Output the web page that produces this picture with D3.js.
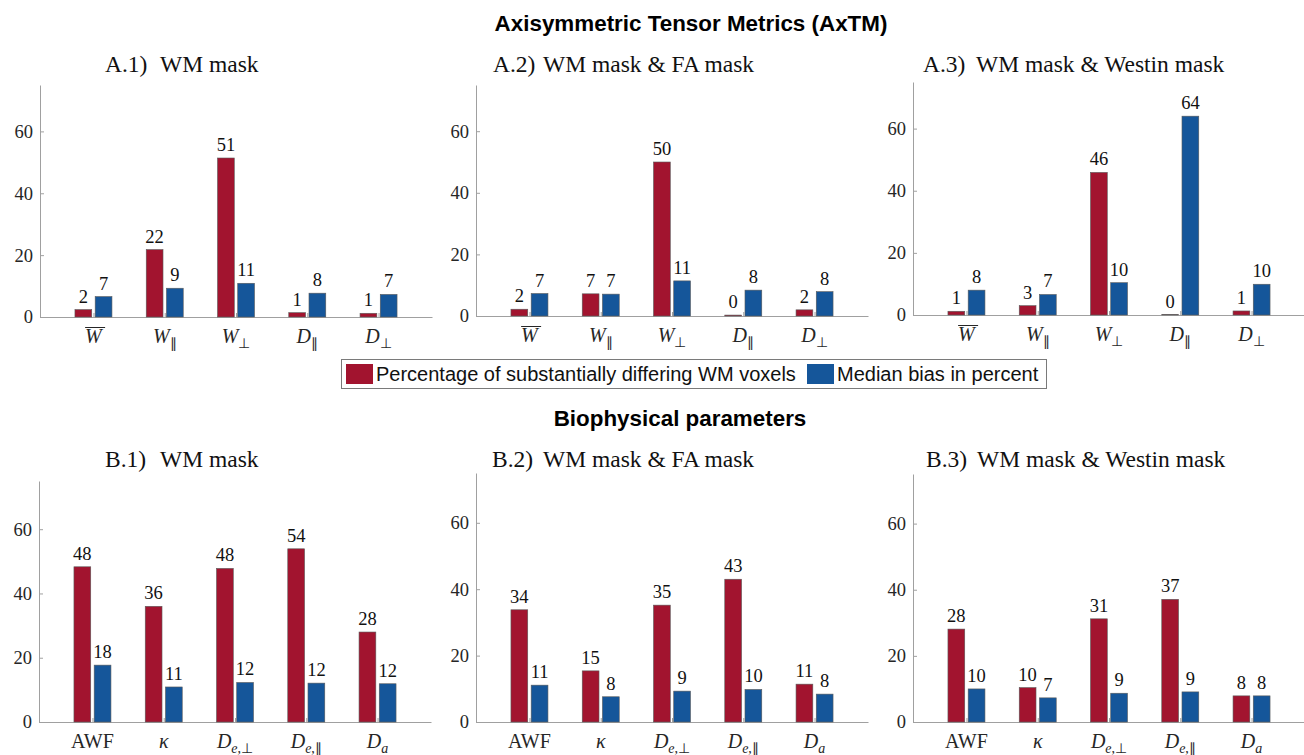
<!DOCTYPE html>
<html>
<head>
<meta charset="utf-8">
<script src="https://cdn.jsdelivr.net/npm/d3@7"></script>
<style>
  body { margin: 0; background: #fff; }
  svg { display: block; }
</style>
</head>
<body>
<svg id="chart" width="1304" height="755"></svg>
<script>
// Data
const catsA = ["~W", "W_∥", "W_⊥", "D_∥", "D_⊥"];
const catsB = ["AWF", "κ", "D_e,⊥", "D_e,∥", "D_a"];
const romanLabels = ["AWF"];

const seriesNames = ["Percentage of substantially differing WM voxels", "Median bias in percent"];
const seriesColors = ["#A2142F", "#15569A"];

const pctA1 = [2.4, 21.8, 51.4, 1.4, 1.2];
const biasA1 = [6.6, 9.3, 10.9, 7.7, 7.3];
const pctA2 = [2.2, 7.2, 50.0, 0.3, 2.0];
const biasA2 = [7.3, 7.1, 11.4, 8.4, 7.9];
const pctA3 = [1.2, 3.0, 45.9, 0.1, 1.3];
const biasA3 = [8.0, 6.6, 10.4, 64.0, 9.9];
const pctB1 = [48.3, 36.0, 47.8, 53.9, 28.0];
const biasB1 = [17.7, 10.9, 12.3, 12.1, 11.9];
const pctB2 = [33.8, 15.4, 35.2, 43.0, 11.4];
const biasB2 = [11.1, 7.6, 9.3, 9.8, 8.4];
const pctB3 = [28.1, 10.4, 31.2, 37.1, 7.9];
const biasB3 = [10.0, 7.3, 8.7, 9.1, 7.9];

const yTicks = [0, 20, 40, 60];
const yMax = 75;

const titleA = "Axisymmetric Tensor Metrics (AxTM)";
const titleB = "Biophysical parameters";

// Layout for each subplot
const panels = [
  {id: "A.1)", name: "WM mask", cats: catsA, vals: [pctA1, biasA1], x0: 40, x1: 432, top: 85, base: 317, tx: 105, bx: 160, ty: 72},
  {id: "A.2)", name: "WM mask & FA mask", cats: catsA, vals: [pctA2, biasA2], x0: 476, x1: 868, top: 85, base: 316, tx: 493, bx: 543, ty: 72},
  {id: "A.3)", name: "WM mask & Westin mask", cats: catsA, vals: [pctA3, biasA3], x0: 913, x1: 1305, top: 82, base: 315, tx: 923, bx: 976, ty: 72},
  {id: "B.1)", name: "WM mask", cats: catsB, vals: [pctB1, biasB1], x0: 39, x1: 431, top: 481, base: 722, tx: 105, bx: 160, ty: 467},
  {id: "B.2)", name: "WM mask & FA mask", cats: catsB, vals: [pctB2, biasB2], x0: 476, x1: 868, top: 473, base: 722, tx: 492, bx: 543, ty: 467},
  {id: "B.3)", name: "WM mask & Westin mask", cats: catsB, vals: [pctB3, biasB3], x0: 913, x1: 1305, top: 474, base: 722, tx: 926, bx: 977, ty: 467}
];

const serif = "'Liberation Serif', 'Times New Roman', serif";
const sans = "'Liberation Sans', Arial, sans-serif";
const axisColor = "#a0a0a0";
const fmt = d3.format(".0f");

const svg = d3.select("#chart");

//Main titles
svg.append("text")
  .attr("x", 691).attr("y", 31)
  .attr("text-anchor", "middle")
  .style("font-family", sans).style("font-weight", "bold").style("font-size", "22.4px")
  .text(titleA);

svg.append("text")
  .attr("x", 680).attr("y", 426)
  .attr("text-anchor", "middle")
  .style("font-family", sans).style("font-weight", "bold").style("font-size", "22.4px")
  .text(titleB);

//Writes a math label like "D_e,⊥" or "~W" into a text element
function writeLabel(g, text, label) {
  const roman = romanLabels.includes(label);
  const over = label.startsWith("~");
  const parts = label.replace("~", "").split("_");
  text.append("tspan")
    .style("font-style", roman ? "normal" : "italic")
    .text(parts[0]);
  if (over) {
    //thin bar above the letter
    const bb = text.node().getBBox();
    g.append("line")
      .attr("x1", bb.x).attr("x2", bb.x + bb.width + 1)
      .attr("y1", bb.y + 2.5).attr("y2", bb.y + 2.5)
      .attr("stroke", "#262626").attr("stroke-width", 1);
  }
  if (parts.length > 1) {
    const sub = parts[1].split(",");
    const s = text.append("tspan")
      .attr("dy", 5)
      .style("font-size", "14px");
    sub.forEach((p, i) => {
      if (i > 0) s.append("tspan").style("font-style", "normal").text(",");
      const isLetter = /[a-z]/.test(p);
      s.append("tspan").style("font-style", isLetter ? "italic" : "normal").text(p);
    });
  }
}

function drawPanel(p) {
  const g = svg.append("g");

  const x = d3.scaleLinear().domain([0.25, p.cats.length + 0.75]).range([p.x0, p.x1]);
  const y = d3.scaleLinear().domain([0, yMax]).range([p.base, p.top]);
  const inner = d3.scaleBand().domain([0, 1]).range([-18.5, 18.5]).paddingInner(0.17);

  //Title
  g.append("text")
    .attr("x", p.tx).attr("y", p.ty)
    .style("font-family", serif).style("font-size", "23.5px").style("fill", "#111")
    .text(p.id);
  g.append("text")
    .attr("x", p.bx).attr("y", p.ty)
    .style("font-family", serif).style("font-size", "23.5px").style("fill", "#111")
    .text(p.name);

  //Y axis
  const yAxis = d3.axisLeft(y)
    .tickValues(yTicks)
    .tickSizeInner(-4)
    .tickSizeOuter(0)
    .tickPadding(7);
  const ya = g.append("g")
    .attr("transform", `translate(${p.x0},0)`)
    .call(yAxis);
  ya.select(".domain").attr("stroke", axisColor);
  ya.selectAll(".tick line").attr("stroke", axisColor);
  ya.selectAll(".tick text")
    .style("font-family", serif).style("font-size", "18.5px").attr("fill", "#262626");

  //X axis
  const idx = d3.range(1, p.cats.length + 1);
  const xAxis = d3.axisBottom(x)
    .tickValues(idx)
    .tickSizeInner(-4)
    .tickSizeOuter(0)
    .tickFormat("");
  const xa = g.append("g")
    .attr("transform", `translate(0,${p.base})`)
    .call(xAxis);
  xa.select(".domain").attr("stroke", axisColor);
  xa.selectAll(".tick line").attr("stroke", axisColor);

  //Category labels
  p.cats.forEach((c, i) => {
    const t = g.append("text")
      .attr("x", x(i + 1))
      .attr("y", p.base + 26)
      .attr("text-anchor", "middle")
      .style("font-family", serif).style("font-size", "20px").style("fill", "#262626");
    writeLabel(g, t, c);
  });

  //Bars and value labels
  p.vals.forEach((series, s) => {
    series.forEach((v, i) => {
      const bx = x(i + 1) + inner(s);
      g.append("rect")
        .attr("x", bx)
        .attr("y", y(v))
        .attr("width", inner.bandwidth())
        .attr("height", y(0) - y(v))
        .attr("fill", seriesColors[s])
        .attr("stroke", "#5a5a5a")
        .attr("stroke-width", 0.6);
      g.append("text")
        .attr("x", bx + inner.bandwidth() / 2)
        .attr("y", y(v) - 7)
        .attr("text-anchor", "middle")
        .style("font-family", serif).style("font-size", "18.5px").style("fill", "#111")
        .text(fmt(v));
    });
  });
}

panels.forEach(drawPanel);

//Legend
const legend = svg.append("g");
legend.append("rect")
  .attr("x", 341.5).attr("y", 359.5)
  .attr("width", 705).attr("height", 29)
  .attr("fill", "#fff").attr("stroke", "#7a7a7a").attr("stroke-width", 1);

const legendX = [346, 807];
seriesNames.forEach((name, s) => {
  legend.append("rect")
    .attr("x", legendX[s]).attr("y", 364)
    .attr("width", 27).attr("height", 20)
    .attr("fill", seriesColors[s]);
  legend.append("text")
    .attr("x", legendX[s] + 30).attr("y", 381)
    .style("font-family", sans).style("font-size", "20px").style("fill", "#111")
    .text(name);
});
</script>
</body>
</html>
